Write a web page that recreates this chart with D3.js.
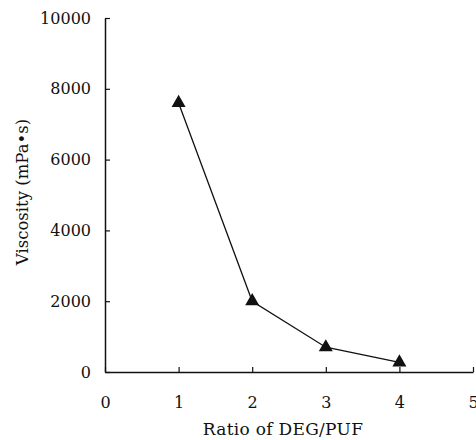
<!DOCTYPE html>
<html>
<head>
<meta charset="utf-8">
<script src="https://cdn.jsdelivr.net/npm/d3@7"></script>
<style>
  body { margin: 0; background: #fff; overflow: hidden; }
  text { font-family: "DejaVu Serif", "Liberation Serif", serif; fill: #111; }
</style>
</head>
<body>
<svg width="476" height="440"></svg>
<script>
const ratios = [1, 2, 3, 4]
const viscosity = [7600, 2000, 700, 270]
const xTicks = [0, 1, 2, 3, 4, 5]
const yTicks = [0, 2000, 4000, 6000, 8000, 10000]

const svg = d3.select("svg")

const margin = {top: 18, right: 3, bottom: 68, left: 105}
const innerWidth = 476 - margin.left - margin.right
const innerHeight = 440 - margin.top - margin.bottom

const xScale = d3.scaleLinear().domain([0, 5]).range([0, innerWidth])
const yScale = d3.scaleLinear().domain([0, 10000]).range([innerHeight, 0])

const g = svg.append("g")
    .attr("transform", `translate(${margin.left}, ${margin.top})`)

// y axis, ticks pointing inward
const yAxis = g.append("g")
    .call(d3.axisRight(yScale).tickValues(yTicks).tickSize(5).tickSizeOuter(0).tickFormat(d3.format("d")))
yAxis.select(".domain").attr("stroke", "#111").attr("stroke-width", 1.5)
yAxis.selectAll(".tick line").attr("stroke", "#111").attr("stroke-width", 1.2)
yAxis.selectAll(".tick text")
    .attr("x", -14)
    .attr("text-anchor", "end")
    .style("font-size", "16px")

// x axis, ticks pointing up
const xAxis = g.append("g")
    .attr("transform", `translate(0, ${innerHeight})`)
    .call(d3.axisTop(xScale).tickValues(xTicks).tickSize(5).tickSizeOuter(0).tickFormat(d3.format("d")))
xAxis.select(".domain").attr("stroke", "#111").attr("stroke-width", 1.5)
xAxis.selectAll(".tick line").attr("stroke", "#111").attr("stroke-width", 1.2)
xAxis.selectAll(".tick text")
    .attr("y", 36)
    .style("font-size", "16px")

// data line
const data = ratios.map((r, i) => ({x: r, y: viscosity[i]}))
g.append("path")
    .datum(data)
    .attr("fill", "none")
    .attr("stroke", "#111")
    .attr("stroke-width", 1.3)
    .attr("d", d3.line().x(d => xScale(d.x)).y(d => yScale(d.y)))

g.selectAll(".pt")
    .data(data)
    .enter().append("path")
    .attr("class", "pt")
    .attr("fill", "#111")
    .attr("transform", d => `translate(${xScale(d.x)}, ${yScale(d.y)})`)
    .attr("d", d3.symbol().type(d3.symbolTriangle).size(85))

// axis titles
svg.append("text")
    .attr("x", margin.left + xScale(2.5) - 6)
    .attr("y", 435)
    .attr("text-anchor", "middle")
    .style("font-size", "17px")
    .style("letter-spacing", "0.3px")
    .text("Ratio of DEG/PUF")

svg.append("text")
    .attr("transform", "translate(28, 192) rotate(-90)")
    .attr("text-anchor", "middle")
    .style("font-size", "16.5px")
    .text("Viscosity (mPa\u2022s)")
</script>
</body>
</html>
